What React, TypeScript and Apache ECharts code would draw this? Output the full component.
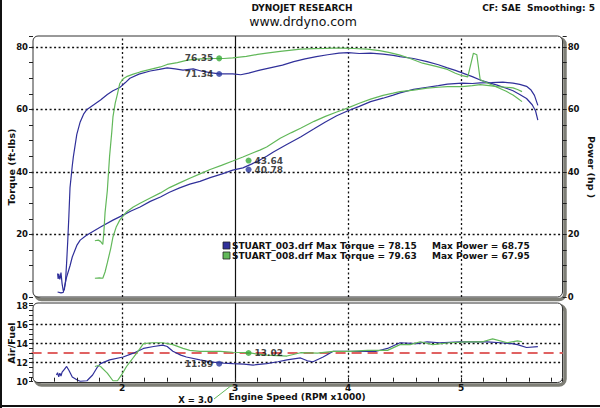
import React, { useEffect, useRef } from 'react';
import * as echarts from 'echarts';

// ---------- data (rpm x1000, value) ----------
const blueTorque = [[1.43,7.5],[1.435,5.8],[1.44,7.4],[1.45,5.6],[1.46,7.8],[1.47,4.2],[1.48,2.0],[1.49,2.4],[1.50,5.0],[1.51,11],[1.52,18],[1.53,26],[1.54,35],[1.56,42],[1.57,45],[1.60,52],[1.63,56],[1.66,58.5],[1.69,60],[1.75,61.5],[1.81,63],[1.87,64.8],[1.92,66],[1.98,67],[2.03,68.6],[2.07,70],[2.15,71.3],[2.25,72.3],[2.33,72.8],[2.40,73.3],[2.47,73],[2.54,72.6],[2.63,73],[2.70,72.3],[2.78,71.8],[2.86,71.4],[2.98,71.4],[3.05,71.1],[3.12,71.6],[3.22,72.6],[3.32,73.4],[3.42,74.2],[3.52,75.3],[3.62,76.2],[3.72,76.9],[3.82,77.5],[3.92,78],[4.00,78.15],[4.10,77.9],[4.20,78.0],[4.31,77.7],[4.40,77.3],[4.46,76.9],[4.58,76.3],[4.70,75.3],[4.80,74.3],[4.88,73.3],[4.95,72.5],[5.01,71.7],[5.10,70.5],[5.17,69.4],[5.25,68.5],[5.32,67.8],[5.40,66.8],[5.46,66],[5.52,64.8],[5.58,63.5],[5.63,61.5],[5.66,59.5],[5.68,56.6]];
const bluePower = [[1.43,1.6],[1.46,1.3],[1.48,1.5],[1.49,3],[1.51,6.4],[1.54,10],[1.56,12.8],[1.60,16.5],[1.63,18.2],[1.68,19.6],[1.72,20.5],[1.81,22.4],[1.92,24.6],[2.01,26.2],[2.08,27.5],[2.16,28.8],[2.25,30.6],[2.34,32],[2.42,33.5],[2.51,34.9],[2.60,36.1],[2.69,37.0],[2.78,38.2],[2.88,39.3],[2.98,40.6],[3.07,41.3],[3.15,42.6],[3.22,43.8],[3.28,45],[3.34,46.4],[3.45,48.6],[3.58,51.2],[3.70,53.8],[3.80,56],[3.90,58],[4.00,59.6],[4.10,61.0],[4.20,62.5],[4.31,63.6],[4.40,64.6],[4.46,65.3],[4.58,66.4],[4.70,67.1],[4.80,67.6],[4.88,68.1],[5.01,68.4],[5.10,68.3],[5.17,68.5],[5.27,68.6],[5.37,68.75],[5.46,68.4],[5.52,68.0],[5.58,67.4],[5.62,66.2],[5.65,64.5],[5.68,61.3]];
const greenTorque = [[1.76,18.0],[1.79,18.2],[1.81,17.8],[1.83,16.8],[1.84,21],[1.85,27],[1.87,34],[1.89,45],[1.91,53],[1.92,57.6],[1.94,62],[1.96,65],[1.98,68.3],[2.01,69.8],[2.04,70.5],[2.10,71.3],[2.16,72],[2.25,72.8],[2.34,73.6],[2.40,74.4],[2.49,75],[2.58,75.8],[2.69,76.2],[2.80,76.3],[2.90,76.3],[2.98,76.5],[3.10,77],[3.20,77.6],[3.28,78],[3.40,78.6],[3.50,79.0],[3.58,79.3],[3.70,79.45],[3.80,79.55],[3.87,79.63],[3.95,79.6],[4.05,79.5],[4.17,79.3],[4.28,78.8],[4.37,78.2],[4.46,77.4],[4.55,76.3],[4.66,74.8],[4.78,73.8],[4.88,72.8],[4.95,71.6],[5.01,70.8],[5.06,70.4],[5.11,78],[5.14,77.5],[5.17,69.5],[5.25,68.2],[5.32,67.1],[5.40,65.8],[5.46,64.6],[5.50,63.6],[5.54,62.5]];
const greenPower = [[1.76,6.0],[1.80,6.1],[1.83,6.0],[1.85,8],[1.87,10.9],[1.90,15.5],[1.92,19.2],[1.95,22.5],[1.98,24.6],[2.04,27.2],[2.10,28.8],[2.16,30],[2.25,31.7],[2.34,33.3],[2.42,35],[2.51,36.5],[2.60,38],[2.69,39.4],[2.78,40.8],[2.88,42.1],[2.98,43.5],[3.07,44.8],[3.15,46],[3.22,47],[3.28,48],[3.40,50.8],[3.50,52.6],[3.58,54],[3.70,56.2],[3.80,57.8],[3.90,59.2],[4.00,60.5],[4.10,62],[4.20,63.3],[4.31,64.5],[4.40,65.2],[4.46,65.7],[4.58,66.2],[4.70,66.8],[4.80,67.1],[4.88,67.3],[5.01,67.3],[5.10,67.6],[5.17,67.95],[5.25,67.6],[5.32,67.3],[5.40,67.1],[5.46,66.9],[5.50,66.4],[5.54,65.7]];
const blueAfr = [[1.42,10.7],[1.43,10.95],[1.44,10.5],[1.45,10.9],[1.46,10.6],[1.47,11.0],[1.49,11.3],[1.51,11.6],[1.53,11.2],[1.56,10.5],[1.60,10.2],[1.63,10.05],[1.69,10.1],[1.74,10.7],[1.78,11.5],[1.81,11.9],[1.89,12.3],[2.01,12.6],[2.10,13.0],[2.19,13.5],[2.28,13.7],[2.36,13.85],[2.40,13.7],[2.45,13.2],[2.52,12.8],[2.57,12.6],[2.69,12.3],[2.80,12.05],[2.90,11.95],[2.98,11.9],[3.08,11.85],[3.16,11.75],[3.28,11.9],[3.38,12.1],[3.46,12.3],[3.58,12.5],[3.64,12.2],[3.69,12.1],[3.78,12.6],[3.87,13.2],[4.02,13.2],[4.17,13.2],[4.25,13.2],[4.35,13.5],[4.46,14.1],[4.61,14.0],[4.70,14.2],[4.81,14.1],[4.99,14.2],[5.11,14.2],[5.23,14.2],[5.35,14.1],[5.45,14.0],[5.50,13.9],[5.58,13.6],[5.68,13.7]];
const greenAfr = [[1.76,11.6],[1.79,11.7],[1.81,11.6],[1.87,10.9],[1.92,10.1],[1.96,10.1],[2.00,10.8],[2.04,11.6],[2.13,13.0],[2.19,14.0],[2.27,14.1],[2.36,14.1],[2.45,13.9],[2.54,13.5],[2.60,13.3],[2.69,13.2],[2.87,13.2],[2.98,13.1],[3.12,13.05],[3.20,12.9],[3.28,12.8],[3.46,12.7],[3.58,13.05],[3.73,13.0],[3.87,13.2],[4.02,13.2],[4.17,13.3],[4.35,13.3],[4.46,13.9],[4.55,13.9],[4.64,14.2],[4.75,13.9],[4.90,14.1],[5.05,14.2],[5.19,14.2],[5.28,14.5],[5.41,14.1],[5.50,14.3],[5.54,14.2]];

const runNames = ['STUART_003.drf', 'STUART_008.drf'];
const maxTorque = [78.15, 79.63];
const maxPower = [68.75, 67.95];
const cursorRpm = 3.0;
const torqueAtCursor = [71.34, 76.35];
const powerAtCursor = [40.78, 43.64];
const afrAtCursor = [11.89, 13.02];
const torqueMarkerRpm = 2.86;
const powerMarkerRpm = 3.12;
const afrTarget = 13.05;
const rpmGridLines = [2, 4, 5];
const torqueGridLines = [20, 40, 60, 80];
const afrGridLines = [12, 14, 16];

const BLUE = '#30309a';
const GREEN = '#62b85a';
const FONT = 'DejaVu Sans';

export default function App() {
  const ref = useRef<HTMLDivElement>(null);
  useEffect(() => {
    document.body.style.margin = '0';
    const chart = echarts.init(ref.current!, null, { renderer: 'svg' });
    const dotted = { type: [2, 2.5] as any, color: '#111', width: 1.3 };
    const cursorLine = { xAxis: cursorRpm, lineStyle: { type: 'solid', color: '#111', width: 1.2 } };
    const lbl = { fontFamily: FONT, fontWeight: 'bold', fontSize: 8.5, color: '#111' };
    const intLabel = (step: number, lo: number, hi: number) => (v: number) => {
      const r = Math.round(v);
      return Math.abs(v - r) < 1e-6 && r % step === 0 && r >= lo && r <= hi ? String(r) : '';
    };
    const gl = { left: 31.6, width: 531.1 };
    const marker = (name: string, x: number, y: number, color: string, pos: string, xi: number, yi: number) => ({
      type: 'scatter', name, xAxisIndex: xi, yAxisIndex: yi, z: 6,
      symbol: 'circle', symbolSize: 6, itemStyle: { color },
      data: [[x, y]],
      label: { show: true, position: pos, distance: 3, formatter: (p: any) => p.value[1].toFixed(2), ...lbl, fontSize: 9 },
    });
    const line = (name: string, data: number[][], color: string, xi: number, yi: number, extra: any = {}) => ({
      type: 'line', name, data, xAxisIndex: xi, yAxisIndex: yi, showSymbol: false, symbol: 'none',
      lineStyle: { color, width: 1.2 }, z: 3, ...extra,
    });
    const frame = (x: number, y: number, w: number, h: number) => [
      { type: 'rect', z: 0, shape: { x: x + 2.5, y: y + 2.5, width: w, height: h, r: 6 }, style: { fill: 'none', stroke: '#7e7e76', lineWidth: 3.5 } },
      { type: 'rect', z: 1, shape: { x, y, width: w, height: h, r: 5 }, style: { fill: '#fff', stroke: '#333', lineWidth: 1 } },
    ];
    const txt = (text: string, x: number, y: number, opts: any = {}) => ({
      type: 'text', x, y, z: 20, rotation: opts.rotation || 0,
      style: {
        text, fill: '#111', fontFamily: FONT, fontWeight: opts.weight || 'bold', fontSize: opts.size || 9,
        align: opts.align || 'center', verticalAlign: 'middle',
      },
    });

    chart.setOption({
      animation: false,
      backgroundColor: '#fff',
      grid: [
        { ...gl, top: 36, height: 261 },
        { ...gl, top: 303, height: 78.7 },
      ],
      xAxis: [
        { type: 'value', gridIndex: 0, min: 1.2, max: 5.9, interval: 0.2, show: false },
        {
          type: 'value', gridIndex: 1, min: 1.2, max: 5.9, interval: 0.2, z: 8,
          axisLine: { show: false }, splitLine: { show: false },
          axisTick: { show: true, inside: true, length: 4, lineStyle: { color: '#222', width: 1 } },
          axisLabel: { formatter: intLabel(1, 1, 6), margin: 2, ...lbl, fontSize: 9 },
        },
      ],
      yAxis: [
        {
          type: 'value', gridIndex: 0, position: 'left', min: 0, max: 83.5, interval: 5, offset: -1.4, z: 8,
          axisLine: { show: false }, splitLine: { show: false },
          axisTick: { show: true, length: 4, lineStyle: { color: '#222' } },
          axisLabel: { formatter: intLabel(20, 0, 80), margin: 5, ...lbl },
        },
        {
          type: 'value', gridIndex: 0, position: 'right', min: 0, max: 83.5, interval: 5, z: 8,
          axisLine: { show: false }, splitLine: { show: false },
          axisTick: { show: true, length: 4, lineStyle: { color: '#222' } },
          axisLabel: { formatter: intLabel(20, 0, 80), margin: 5, ...lbl },
        },
        {
          type: 'value', gridIndex: 1, position: 'left', min: 10, max: 18.28, interval: 0.5, offset: -1.4, z: 8,
          axisLine: { show: false }, splitLine: { show: false },
          axisTick: { show: true, length: 4, lineStyle: { color: '#222' } },
          axisLabel: { formatter: intLabel(2, 10, 18), margin: 5, ...lbl },
        },
      ],
      series: [
        line(runNames[0] + ' Torque', blueTorque, BLUE, 0, 0, {
          markLine: {
            silent: true, symbol: 'none', label: { show: false }, lineStyle: dotted, z: 2,
            data: [
              ...rpmGridLines.map((v) => ({ xAxis: v })),
              ...torqueGridLines.map((v) => ({ yAxis: v })),
              cursorLine,
            ],
          },
        }),
        line(runNames[0] + ' Power', bluePower, BLUE, 0, 1),
        line(runNames[1] + ' Torque', greenTorque, GREEN, 0, 0),
        line(runNames[1] + ' Power', greenPower, GREEN, 0, 1),
        line(runNames[0] + ' AFR', blueAfr, BLUE, 1, 2, {
          markLine: {
            silent: true, symbol: 'none', label: { show: false }, lineStyle: dotted, z: 2,
            data: [
              ...rpmGridLines.map((v) => ({ xAxis: v })),
              ...afrGridLines.map((v) => ({ yAxis: v })),
              cursorLine,
              { yAxis: afrTarget, lineStyle: { type: [10, 6], color: '#e06262', width: 2 } },
            ],
          },
        }),
        line(runNames[1] + ' AFR', greenAfr, GREEN, 1, 2),
        marker('t0', torqueMarkerRpm, torqueAtCursor[0], '#2a3aa0', 'left', 0, 0),
        marker('t1', torqueMarkerRpm, torqueAtCursor[1], '#3aaa3a', 'left', 0, 0),
        marker('p0', powerMarkerRpm, powerAtCursor[0], '#2a3aa0', 'right', 0, 1),
        marker('p1', powerMarkerRpm, powerAtCursor[1], '#3aaa3a', 'right', 0, 1),
        marker('a0', torqueMarkerRpm, afrAtCursor[0], '#2a3aa0', 'left', 1, 2),
        marker('a1', powerMarkerRpm, afrAtCursor[1], '#3aaa3a', 'right', 1, 2),
      ],
      graphic: [
        ...frame(33, 36, 529.5, 261),
        ...frame(33, 303, 529.5, 79.5),
        { type: 'line', z: 20, shape: { x1: 1, y1: 0, x2: 1, y2: 408 }, style: { stroke: '#111', lineWidth: 2 } },
        { type: 'line', z: 20, shape: { x1: 0, y1: 406, x2: 600, y2: 406 }, style: { stroke: '#111', lineWidth: 2 } },
        txt('DYNOJET RESEARCH', 302, 7.5),
        txt('www.drdyno.com', 303, 21, { weight: 'normal', size: 12.5 }),
        txt('CF: SAE  Smoothing: 5', 595, 7.5, { align: 'right' }),
        txt('Torque (ft-lbs)', 11, 167, { rotation: Math.PI / 2, size: 9.5 }),
        txt('Power (hp )', 591, 167, { rotation: -Math.PI / 2, size: 9.5 }),
        txt('Air/Fuel', 11, 343, { rotation: Math.PI / 2, size: 9.5 }),
        txt('Engine Speed (RPM x1000)', 297, 397),
        txt('X = ' + cursorRpm.toFixed(1), 213, 400, { align: 'right', size: 8.5 }),
        { type: 'line', z: 20, shape: { x1: 214, y1: 399, x2: 232, y2: 385 }, style: { stroke: GREEN, lineWidth: 1 } },
        { type: 'rect', z: 20, shape: { x: 223, y: 242, width: 7, height: 7 }, style: { fill: BLUE, stroke: '#222', lineWidth: 0.8 } },
        { type: 'rect', z: 20, shape: { x: 223, y: 252, width: 7, height: 7 }, style: { fill: GREEN, stroke: '#222', lineWidth: 0.8 } },
        ...runNames.flatMap((n, i) => [
          txt(`${n} Max Torque = ${maxTorque[i].toFixed(2)}`, 232, 246 + i * 10, { align: 'left' }),
          txt(`Max Power = ${maxPower[i].toFixed(2)}`, 432, 246 + i * 10, { align: 'left' }),
        ]),
      ],
    });
    return () => chart.dispose();
  }, []);
  return <div ref={ref} style={{ position: 'absolute', left: 0, top: 0, width: 600, height: 408 }} />;
}
